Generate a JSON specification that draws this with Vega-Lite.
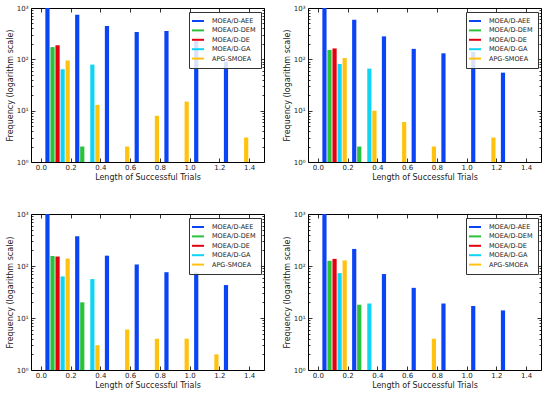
{
  "$schema": "https://vega.github.io/schema/vega-lite/v6.json",
  "padding": {"left": 5, "top": 3, "right": 5, "bottom": 5},
  "data": {"values": [
    {"panel":1,"bin":0,"series":"MOEA/D-AEE","freq":1000},
    {"panel":1,"bin":0.2,"series":"MOEA/D-AEE","freq":740},
    {"panel":1,"bin":0.4,"series":"MOEA/D-AEE","freq":447},
    {"panel":1,"bin":0.6,"series":"MOEA/D-AEE","freq":340},
    {"panel":1,"bin":0.8,"series":"MOEA/D-AEE","freq":356},
    {"panel":1,"bin":1.0,"series":"MOEA/D-AEE","freq":230},
    {"panel":1,"bin":1.2,"series":"MOEA/D-AEE","freq":90},
    {"panel":1,"bin":0,"series":"MOEA/D-DEM","freq":173},
    {"panel":1,"bin":0.2,"series":"MOEA/D-DEM","freq":2},
    {"panel":1,"bin":0,"series":"MOEA/D-DE","freq":188},
    {"panel":1,"bin":0,"series":"MOEA/D-GA","freq":64},
    {"panel":1,"bin":0.2,"series":"MOEA/D-GA","freq":79},
    {"panel":1,"bin":0,"series":"APG-SMOEA","freq":95},
    {"panel":1,"bin":0.2,"series":"APG-SMOEA","freq":13},
    {"panel":1,"bin":0.4,"series":"APG-SMOEA","freq":2},
    {"panel":1,"bin":0.6,"series":"APG-SMOEA","freq":8},
    {"panel":1,"bin":0.8,"series":"APG-SMOEA","freq":15},
    {"panel":1,"bin":1.2,"series":"APG-SMOEA","freq":3},

    {"panel":2,"bin":0,"series":"MOEA/D-AEE","freq":1000},
    {"panel":2,"bin":0.2,"series":"MOEA/D-AEE","freq":590},
    {"panel":2,"bin":0.4,"series":"MOEA/D-AEE","freq":280},
    {"panel":2,"bin":0.6,"series":"MOEA/D-AEE","freq":160},
    {"panel":2,"bin":0.8,"series":"MOEA/D-AEE","freq":131},
    {"panel":2,"bin":1.0,"series":"MOEA/D-AEE","freq":140},
    {"panel":2,"bin":1.2,"series":"MOEA/D-AEE","freq":55},
    {"panel":2,"bin":0,"series":"MOEA/D-DEM","freq":152},
    {"panel":2,"bin":0.2,"series":"MOEA/D-DEM","freq":2},
    {"panel":2,"bin":0,"series":"MOEA/D-DE","freq":163},
    {"panel":2,"bin":0,"series":"MOEA/D-GA","freq":81},
    {"panel":2,"bin":0.2,"series":"MOEA/D-GA","freq":66},
    {"panel":2,"bin":0,"series":"APG-SMOEA","freq":106},
    {"panel":2,"bin":0.2,"series":"APG-SMOEA","freq":10},
    {"panel":2,"bin":0.4,"series":"APG-SMOEA","freq":6},
    {"panel":2,"bin":0.6,"series":"APG-SMOEA","freq":2},
    {"panel":2,"bin":1.0,"series":"APG-SMOEA","freq":3},

    {"panel":3,"bin":0,"series":"MOEA/D-AEE","freq":1000},
    {"panel":3,"bin":0.2,"series":"MOEA/D-AEE","freq":373},
    {"panel":3,"bin":0.4,"series":"MOEA/D-AEE","freq":158},
    {"panel":3,"bin":0.6,"series":"MOEA/D-AEE","freq":107},
    {"panel":3,"bin":0.8,"series":"MOEA/D-AEE","freq":76},
    {"panel":3,"bin":1.0,"series":"MOEA/D-AEE","freq":75},
    {"panel":3,"bin":1.2,"series":"MOEA/D-AEE","freq":43},
    {"panel":3,"bin":0,"series":"MOEA/D-DEM","freq":156},
    {"panel":3,"bin":0.2,"series":"MOEA/D-DEM","freq":20},
    {"panel":3,"bin":0,"series":"MOEA/D-DE","freq":152},
    {"panel":3,"bin":0,"series":"MOEA/D-GA","freq":63},
    {"panel":3,"bin":0.2,"series":"MOEA/D-GA","freq":56},
    {"panel":3,"bin":0,"series":"APG-SMOEA","freq":139},
    {"panel":3,"bin":0.2,"series":"APG-SMOEA","freq":3},
    {"panel":3,"bin":0.4,"series":"APG-SMOEA","freq":6},
    {"panel":3,"bin":0.6,"series":"APG-SMOEA","freq":4},
    {"panel":3,"bin":0.8,"series":"APG-SMOEA","freq":4},
    {"panel":3,"bin":1.0,"series":"APG-SMOEA","freq":2},

    {"panel":4,"bin":0,"series":"MOEA/D-AEE","freq":1000},
    {"panel":4,"bin":0.2,"series":"MOEA/D-AEE","freq":213},
    {"panel":4,"bin":0.4,"series":"MOEA/D-AEE","freq":70},
    {"panel":4,"bin":0.6,"series":"MOEA/D-AEE","freq":38},
    {"panel":4,"bin":0.8,"series":"MOEA/D-AEE","freq":19},
    {"panel":4,"bin":1.0,"series":"MOEA/D-AEE","freq":17},
    {"panel":4,"bin":1.2,"series":"MOEA/D-AEE","freq":14},
    {"panel":4,"bin":0,"series":"MOEA/D-DEM","freq":126},
    {"panel":4,"bin":0.2,"series":"MOEA/D-DEM","freq":18},
    {"panel":4,"bin":0,"series":"MOEA/D-DE","freq":137},
    {"panel":4,"bin":0,"series":"MOEA/D-GA","freq":73},
    {"panel":4,"bin":0.2,"series":"MOEA/D-GA","freq":19},
    {"panel":4,"bin":0,"series":"APG-SMOEA","freq":128},
    {"panel":4,"bin":0.6,"series":"APG-SMOEA","freq":4}
  ]},
  "config": {
    "font": "DejaVu Sans",
    "view": {"stroke": "#000", "strokeWidth": 1},
    "bar": {"width": 4.2, "clip": true},
    "axis": {"grid": false, "domain": false, "tickColor": "#000", "tickSize": -4, "tickWidth": 0.8,
             "labelFontSize": 7, "labelColor": "#222", "titleFontSize": 8, "titleFontWeight": "normal", "titleColor": "#222"},
    "legend": {"orient": "top-right", "offset": 3.5, "padding": 5, "fillColor": "rgba(255,255,255,0.85)", "strokeColor": "#333",
               "symbolType": "M-1.5,-0.25H1.5V0.25H-1.5Z", "symbolSize": 64, "symbolStrokeWidth": 0, "symbolOpacity": 1,
               "labelFontSize": 6.5, "labelOffset": 10, "rowPadding": 1.4, "labelColor": "#222", "cornerRadius": 0}
  },
  "columns": 2,
  "spacing": {"row": 52, "column": 44},
  "bounds": "flush",
  "resolve": {"legend": {"color": "independent"}},
  "concat": [
    {"width": 233, "height": 154, "transform": [{"filter": "datum.panel == 1"}],
     "resolve": {"axis": {"x": "independent", "y": "independent"}},
     "layer": [
      {"transform": [{"filter": "datum.series == 'MOEA/D-AEE'"}], "mark": {"type": "bar", "xOffset": 6.7},
       "encoding": {
        "x": {"field": "bin", "type": "quantitative", "scale": {"domain": [-0.032, 1.467], "nice": false, "zero": false},
              "axis": {"orient": "bottom", "values": [0,0.2,0.4,0.6,0.8,1,1.2,1.4], "format": ".1f", "title": "Length of Successful Trials", "labelPadding": 5.5, "titlePadding": 3}},
        "y": {"field": "freq", "type": "quantitative", "stack": null, "scale": {"type": "log", "domain": [1, 1000], "nice": false},
              "axis": {"orient": "left", "values": [1,10,100,1000], "labelExpr": "datum.value == 1 ? '10⁰' : datum.value == 10 ? '10¹' : datum.value == 100 ? '10²' : '10³'", "title": "Frequency (logarithm scale)", "labelPadding": 7, "titlePadding": 2}},
        "color": {"field": "series", "type": "nominal", "scale": {"domain": ["MOEA/D-AEE","MOEA/D-DEM","MOEA/D-DE","MOEA/D-GA","APG-SMOEA"], "range": ["#0b44f5","#29c23a","#e3000f","#10d4f5","#ffc20e"]}, "legend": {"title": null}}
       }},
      {"transform": [{"filter": "datum.series == 'MOEA/D-DEM'"}], "mark": {"type": "bar", "xOffset": 11.75},
       "encoding": {
        "x": {"field": "bin", "type": "quantitative", "scale": {"domain": [-0.032, 1.467], "nice": false, "zero": false}, "axis": {"orient": "top", "values": [0,0.2,0.4,0.6,0.8,1,1.2,1.4], "labels": false, "title": null}},
        "y": {"field": "freq", "type": "quantitative", "stack": null, "scale": {"type": "log", "domain": [1, 1000], "nice": false}, "axis": {"orient": "right", "values": [1,10,100,1000], "labels": false, "title": null}},
        "color": {"field": "series", "type": "nominal", "legend": {"title": null}}
       }},
      {"transform": [{"filter": "datum.series == 'MOEA/D-DE'"}], "mark": {"type": "bar", "xOffset": 16.8},
       "encoding": {
        "x": {"field": "bin", "type": "quantitative", "scale": {"domain": [-0.032, 1.467], "nice": false, "zero": false}, "axis": null},
        "y": {"field": "freq", "type": "quantitative", "stack": null, "scale": {"type": "log", "domain": [1, 1000], "nice": false}, "axis": {"orient": "left", "values": [2,3,4,5,6,7,8,9,20,30,40,50,60,70,80,90,200,300,400,500,600,700,800,900], "labels": false, "title": null, "tickSize": -2}},
        "color": {"field": "series", "type": "nominal", "legend": {"title": null}}
       }},
      {"transform": [{"filter": "datum.series == 'MOEA/D-GA'"}], "mark": {"type": "bar", "xOffset": 21.85},
       "encoding": {
        "x": {"field": "bin", "type": "quantitative", "scale": {"domain": [-0.032, 1.467], "nice": false, "zero": false}, "axis": null},
        "y": {"field": "freq", "type": "quantitative", "stack": null, "scale": {"type": "log", "domain": [1, 1000], "nice": false}, "axis": {"orient": "right", "values": [2,3,4,5,6,7,8,9,20,30,40,50,60,70,80,90,200,300,400,500,600,700,800,900], "labels": false, "title": null, "tickSize": -2}},
        "color": {"field": "series", "type": "nominal", "legend": {"title": null}}
       }},
      {"transform": [{"filter": "datum.series == 'APG-SMOEA'"}], "mark": {"type": "bar", "xOffset": 26.9},
       "encoding": {
        "x": {"field": "bin", "type": "quantitative", "scale": {"domain": [-0.032, 1.467], "nice": false, "zero": false}, "axis": null},
        "y": {"field": "freq", "type": "quantitative", "stack": null, "scale": {"type": "log", "domain": [1, 1000], "nice": false}, "axis": null},
        "color": {"field": "series", "type": "nominal", "legend": {"title": null}}
       }}
     ]},
    {"width": 233, "height": 154, "transform": [{"filter": "datum.panel == 2"}],
     "resolve": {"axis": {"x": "independent", "y": "independent"}},
     "layer": [
      {"transform": [{"filter": "datum.series == 'MOEA/D-AEE'"}], "mark": {"type": "bar", "xOffset": 6.7},
       "encoding": {
        "x": {"field": "bin", "type": "quantitative", "scale": {"domain": [-0.032, 1.467], "nice": false, "zero": false},
              "axis": {"orient": "bottom", "values": [0,0.2,0.4,0.6,0.8,1,1.2,1.4], "format": ".1f", "title": "Length of Successful Trials", "labelPadding": 5.5, "titlePadding": 3}},
        "y": {"field": "freq", "type": "quantitative", "stack": null, "scale": {"type": "log", "domain": [1, 1000], "nice": false},
              "axis": {"orient": "left", "values": [1,10,100,1000], "labelExpr": "datum.value == 1 ? '10⁰' : datum.value == 10 ? '10¹' : datum.value == 100 ? '10²' : '10³'", "title": "Frequency (logarithm scale)", "labelPadding": 7, "titlePadding": 2}},
        "color": {"field": "series", "type": "nominal", "scale": {"domain": ["MOEA/D-AEE","MOEA/D-DEM","MOEA/D-DE","MOEA/D-GA","APG-SMOEA"], "range": ["#0b44f5","#29c23a","#e3000f","#10d4f5","#ffc20e"]}, "legend": {"title": null}}
       }},
      {"transform": [{"filter": "datum.series == 'MOEA/D-DEM'"}], "mark": {"type": "bar", "xOffset": 11.75},
       "encoding": {
        "x": {"field": "bin", "type": "quantitative", "scale": {"domain": [-0.032, 1.467], "nice": false, "zero": false}, "axis": {"orient": "top", "values": [0,0.2,0.4,0.6,0.8,1,1.2,1.4], "labels": false, "title": null}},
        "y": {"field": "freq", "type": "quantitative", "stack": null, "scale": {"type": "log", "domain": [1, 1000], "nice": false}, "axis": {"orient": "right", "values": [1,10,100,1000], "labels": false, "title": null}},
        "color": {"field": "series", "type": "nominal", "legend": {"title": null}}
       }},
      {"transform": [{"filter": "datum.series == 'MOEA/D-DE'"}], "mark": {"type": "bar", "xOffset": 16.8},
       "encoding": {
        "x": {"field": "bin", "type": "quantitative", "scale": {"domain": [-0.032, 1.467], "nice": false, "zero": false}, "axis": null},
        "y": {"field": "freq", "type": "quantitative", "stack": null, "scale": {"type": "log", "domain": [1, 1000], "nice": false}, "axis": {"orient": "left", "values": [2,3,4,5,6,7,8,9,20,30,40,50,60,70,80,90,200,300,400,500,600,700,800,900], "labels": false, "title": null, "tickSize": -2}},
        "color": {"field": "series", "type": "nominal", "legend": {"title": null}}
       }},
      {"transform": [{"filter": "datum.series == 'MOEA/D-GA'"}], "mark": {"type": "bar", "xOffset": 21.85},
       "encoding": {
        "x": {"field": "bin", "type": "quantitative", "scale": {"domain": [-0.032, 1.467], "nice": false, "zero": false}, "axis": null},
        "y": {"field": "freq", "type": "quantitative", "stack": null, "scale": {"type": "log", "domain": [1, 1000], "nice": false}, "axis": {"orient": "right", "values": [2,3,4,5,6,7,8,9,20,30,40,50,60,70,80,90,200,300,400,500,600,700,800,900], "labels": false, "title": null, "tickSize": -2}},
        "color": {"field": "series", "type": "nominal", "legend": {"title": null}}
       }},
      {"transform": [{"filter": "datum.series == 'APG-SMOEA'"}], "mark": {"type": "bar", "xOffset": 26.9},
       "encoding": {
        "x": {"field": "bin", "type": "quantitative", "scale": {"domain": [-0.032, 1.467], "nice": false, "zero": false}, "axis": null},
        "y": {"field": "freq", "type": "quantitative", "stack": null, "scale": {"type": "log", "domain": [1, 1000], "nice": false}, "axis": null},
        "color": {"field": "series", "type": "nominal", "legend": {"title": null}}
       }}
     ]},
    {"width": 233, "height": 156, "transform": [{"filter": "datum.panel == 3"}],
     "resolve": {"axis": {"x": "independent", "y": "independent"}},
     "layer": [
      {"transform": [{"filter": "datum.series == 'MOEA/D-AEE'"}], "mark": {"type": "bar", "xOffset": 6.7},
       "encoding": {
        "x": {"field": "bin", "type": "quantitative", "scale": {"domain": [-0.032, 1.467], "nice": false, "zero": false},
              "axis": {"orient": "bottom", "values": [0,0.2,0.4,0.6,0.8,1,1.2,1.4], "format": ".1f", "title": "Length of Successful Trials", "labelPadding": 5.5, "titlePadding": 3}},
        "y": {"field": "freq", "type": "quantitative", "stack": null, "scale": {"type": "log", "domain": [1, 1000], "nice": false},
              "axis": {"orient": "left", "values": [1,10,100,1000], "labelExpr": "datum.value == 1 ? '10⁰' : datum.value == 10 ? '10¹' : datum.value == 100 ? '10²' : '10³'", "title": "Frequency (logarithm scale)", "labelPadding": 7, "titlePadding": 2}},
        "color": {"field": "series", "type": "nominal", "scale": {"domain": ["MOEA/D-AEE","MOEA/D-DEM","MOEA/D-DE","MOEA/D-GA","APG-SMOEA"], "range": ["#0b44f5","#29c23a","#e3000f","#10d4f5","#ffc20e"]}, "legend": {"title": null}}
       }},
      {"transform": [{"filter": "datum.series == 'MOEA/D-DEM'"}], "mark": {"type": "bar", "xOffset": 11.75},
       "encoding": {
        "x": {"field": "bin", "type": "quantitative", "scale": {"domain": [-0.032, 1.467], "nice": false, "zero": false}, "axis": {"orient": "top", "values": [0,0.2,0.4,0.6,0.8,1,1.2,1.4], "labels": false, "title": null}},
        "y": {"field": "freq", "type": "quantitative", "stack": null, "scale": {"type": "log", "domain": [1, 1000], "nice": false}, "axis": {"orient": "right", "values": [1,10,100,1000], "labels": false, "title": null}},
        "color": {"field": "series", "type": "nominal", "legend": {"title": null}}
       }},
      {"transform": [{"filter": "datum.series == 'MOEA/D-DE'"}], "mark": {"type": "bar", "xOffset": 16.8},
       "encoding": {
        "x": {"field": "bin", "type": "quantitative", "scale": {"domain": [-0.032, 1.467], "nice": false, "zero": false}, "axis": null},
        "y": {"field": "freq", "type": "quantitative", "stack": null, "scale": {"type": "log", "domain": [1, 1000], "nice": false}, "axis": {"orient": "left", "values": [2,3,4,5,6,7,8,9,20,30,40,50,60,70,80,90,200,300,400,500,600,700,800,900], "labels": false, "title": null, "tickSize": -2}},
        "color": {"field": "series", "type": "nominal", "legend": {"title": null}}
       }},
      {"transform": [{"filter": "datum.series == 'MOEA/D-GA'"}], "mark": {"type": "bar", "xOffset": 21.85},
       "encoding": {
        "x": {"field": "bin", "type": "quantitative", "scale": {"domain": [-0.032, 1.467], "nice": false, "zero": false}, "axis": null},
        "y": {"field": "freq", "type": "quantitative", "stack": null, "scale": {"type": "log", "domain": [1, 1000], "nice": false}, "axis": {"orient": "right", "values": [2,3,4,5,6,7,8,9,20,30,40,50,60,70,80,90,200,300,400,500,600,700,800,900], "labels": false, "title": null, "tickSize": -2}},
        "color": {"field": "series", "type": "nominal", "legend": {"title": null}}
       }},
      {"transform": [{"filter": "datum.series == 'APG-SMOEA'"}], "mark": {"type": "bar", "xOffset": 26.9},
       "encoding": {
        "x": {"field": "bin", "type": "quantitative", "scale": {"domain": [-0.032, 1.467], "nice": false, "zero": false}, "axis": null},
        "y": {"field": "freq", "type": "quantitative", "stack": null, "scale": {"type": "log", "domain": [1, 1000], "nice": false}, "axis": null},
        "color": {"field": "series", "type": "nominal", "legend": {"title": null}}
       }}
     ]},
    {"width": 233, "height": 156, "transform": [{"filter": "datum.panel == 4"}],
     "resolve": {"axis": {"x": "independent", "y": "independent"}},
     "layer": [
      {"transform": [{"filter": "datum.series == 'MOEA/D-AEE'"}], "mark": {"type": "bar", "xOffset": 6.7},
       "encoding": {
        "x": {"field": "bin", "type": "quantitative", "scale": {"domain": [-0.032, 1.467], "nice": false, "zero": false},
              "axis": {"orient": "bottom", "values": [0,0.2,0.4,0.6,0.8,1,1.2,1.4], "format": ".1f", "title": "Length of Successful Trials", "labelPadding": 5.5, "titlePadding": 3}},
        "y": {"field": "freq", "type": "quantitative", "stack": null, "scale": {"type": "log", "domain": [1, 1000], "nice": false},
              "axis": {"orient": "left", "values": [1,10,100,1000], "labelExpr": "datum.value == 1 ? '10⁰' : datum.value == 10 ? '10¹' : datum.value == 100 ? '10²' : '10³'", "title": "Frequency (logarithm scale)", "labelPadding": 7, "titlePadding": 2}},
        "color": {"field": "series", "type": "nominal", "scale": {"domain": ["MOEA/D-AEE","MOEA/D-DEM","MOEA/D-DE","MOEA/D-GA","APG-SMOEA"], "range": ["#0b44f5","#29c23a","#e3000f","#10d4f5","#ffc20e"]}, "legend": {"title": null}}
       }},
      {"transform": [{"filter": "datum.series == 'MOEA/D-DEM'"}], "mark": {"type": "bar", "xOffset": 11.75},
       "encoding": {
        "x": {"field": "bin", "type": "quantitative", "scale": {"domain": [-0.032, 1.467], "nice": false, "zero": false}, "axis": {"orient": "top", "values": [0,0.2,0.4,0.6,0.8,1,1.2,1.4], "labels": false, "title": null}},
        "y": {"field": "freq", "type": "quantitative", "stack": null, "scale": {"type": "log", "domain": [1, 1000], "nice": false}, "axis": {"orient": "right", "values": [1,10,100,1000], "labels": false, "title": null}},
        "color": {"field": "series", "type": "nominal", "legend": {"title": null}}
       }},
      {"transform": [{"filter": "datum.series == 'MOEA/D-DE'"}], "mark": {"type": "bar", "xOffset": 16.8},
       "encoding": {
        "x": {"field": "bin", "type": "quantitative", "scale": {"domain": [-0.032, 1.467], "nice": false, "zero": false}, "axis": null},
        "y": {"field": "freq", "type": "quantitative", "stack": null, "scale": {"type": "log", "domain": [1, 1000], "nice": false}, "axis": {"orient": "left", "values": [2,3,4,5,6,7,8,9,20,30,40,50,60,70,80,90,200,300,400,500,600,700,800,900], "labels": false, "title": null, "tickSize": -2}},
        "color": {"field": "series", "type": "nominal", "legend": {"title": null}}
       }},
      {"transform": [{"filter": "datum.series == 'MOEA/D-GA'"}], "mark": {"type": "bar", "xOffset": 21.85},
       "encoding": {
        "x": {"field": "bin", "type": "quantitative", "scale": {"domain": [-0.032, 1.467], "nice": false, "zero": false}, "axis": null},
        "y": {"field": "freq", "type": "quantitative", "stack": null, "scale": {"type": "log", "domain": [1, 1000], "nice": false}, "axis": {"orient": "right", "values": [2,3,4,5,6,7,8,9,20,30,40,50,60,70,80,90,200,300,400,500,600,700,800,900], "labels": false, "title": null, "tickSize": -2}},
        "color": {"field": "series", "type": "nominal", "legend": {"title": null}}
       }},
      {"transform": [{"filter": "datum.series == 'APG-SMOEA'"}], "mark": {"type": "bar", "xOffset": 26.9},
       "encoding": {
        "x": {"field": "bin", "type": "quantitative", "scale": {"domain": [-0.032, 1.467], "nice": false, "zero": false}, "axis": null},
        "y": {"field": "freq", "type": "quantitative", "stack": null, "scale": {"type": "log", "domain": [1, 1000], "nice": false}, "axis": null},
        "color": {"field": "series", "type": "nominal", "legend": {"title": null}}
       }}
     ]}
  ]
}
